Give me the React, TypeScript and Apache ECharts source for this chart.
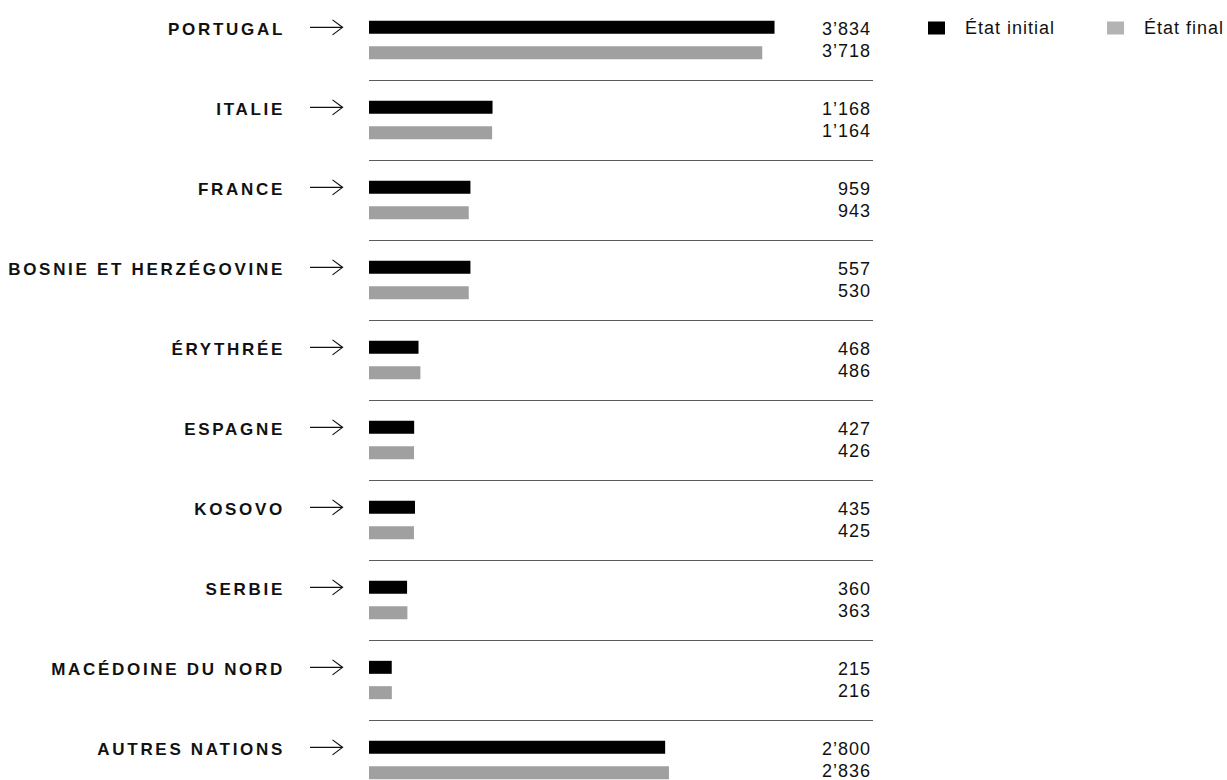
import React, { useEffect, useRef } from 'react';
import * as echarts from 'echarts';

const categories = [
  'PORTUGAL',
  'ITALIE',
  'FRANCE',
  'BOSNIE ET HERZÉGOVINE',
  'ÉRYTHRÉE',
  'ESPAGNE',
  'KOSOVO',
  'SERBIE',
  'MACÉDOINE DU NORD',
  'AUTRES NATIONS',
];

// Printed values (right-hand labels)
const labelInitial = [3834, 1168, 959, 557, 468, 427, 435, 360, 215, 2800];
const labelFinal = [3718, 1164, 943, 530, 486, 426, 425, 363, 216, 2836];

// Bar lengths as drawn in the reference (the Bosnia bars are drawn at the France lengths)
const barInitial = [3834, 1168, 959, 959, 468, 427, 435, 360, 215, 2800];
const barFinal = [3718, 1164, 943, 943, 486, 426, 425, 363, 216, 2836];

const seriesNames = ['État initial', 'État final'];

const FONT = '"Liberation Sans", Arial, Helvetica, sans-serif';

const fmt = (n: number) =>
  n >= 1000 ? `${Math.floor(n / 1000)}’${String(n % 1000).padStart(3, '0')}` : String(n);

const css = `
text[style*="bold"] { letter-spacing: 2.7px; }
text[style*="18px"] { letter-spacing: 1px; }
`;

export default function App() {
  const ref = useRef<HTMLDivElement>(null);
  useEffect(() => {
    const chart = echarts.init(ref.current!, null, { renderer: 'svg' });
    chart.setOption({
      animation: false,
      textStyle: { fontFamily: FONT },
      legend: {
        left: 928,
        top: 19,
        padding: 0,
        itemWidth: 17,
        itemHeight: 13,
        icon: 'rect',
        itemGap: 64,
        textStyle: { fontSize: 18, color: '#111', fontFamily: FONT, padding: [0, 0, 0, 15] },
        data: [
          { name: seriesNames[0], itemStyle: { color: '#000000' } },
          { name: seriesNames[1], itemStyle: { color: '#b3b3b3' } },
        ],
      },
      grid: { left: 369, top: 0, width: 504, height: 800, containLabel: false, outerBoundsMode: 'none' },
      xAxis: { type: 'value', min: 0, max: 4765, show: false },
      yAxis: [
        {
          type: 'category',
          data: categories,
          inverse: true,
          axisLine: { show: false },
          axisTick: { show: false },
          splitLine: {
            show: true,
            interval: (i: number) => i > 0,
            lineStyle: { color: '#5a5a5a', width: 1.2 },
          },
          axisLabel: {
            interval: 0,
            margin: 84,
            formatter: (v: string) => `{n|${v}}\n{e| }`,
            rich: {
              n: { fontSize: 17, fontWeight: 'bold', color: '#111', fontFamily: FONT, lineHeight: 25 },
              e: { fontSize: 10, lineHeight: 22 },
            },
          },
        },
        {
          type: 'category',
          data: categories,
          inverse: true,
          position: 'right',
          axisLine: { show: false },
          axisTick: { show: false },
          splitLine: { show: false },
          axisLabel: {
            interval: 0,
            margin: -2,
            align: 'right',
            formatter: (_v: string, i: number) =>
              `{v|${fmt(labelInitial[i])}}\n{v|${fmt(labelFinal[i])}}`,
            rich: {
              v: { fontSize: 18, lineHeight: 22, color: '#111', fontFamily: FONT },
            },
          },
        },
      ],
      series: [
        {
          name: seriesNames[0],
          type: 'bar',
          data: barInitial,
          barWidth: 13,
          barGap: '95%',
          itemStyle: { color: '#000000' },
        },
        {
          name: seriesNames[1],
          type: 'bar',
          data: barFinal,
          barWidth: 13,
          barGap: '95%',
          itemStyle: { color: '#a0a0a0' },
        },
        {
          // arrows pointing from each country name to its bars
          type: 'custom',
          silent: true,
          clip: false,
          data: categories.map((_c, i) => [0, i]),
          encode: { x: 0, y: 1 },
          renderItem: (_params: any, api: any) => {
            const p = api.coord([0, api.value(1)]);
            const band = api.size([0, 1])[1];
            const x = p[0];
            const y = p[1] - band * 0.158;
            const st = { stroke: '#111', lineWidth: 1.2, fill: null };
            return {
              type: 'group',
              children: [
                { type: 'line', shape: { x1: x - 59, y1: y, x2: x - 26.5, y2: y }, style: st },
                {
                  type: 'polyline',
                  shape: { points: [[x - 36.5, y - 7.5], [x - 26.5, y], [x - 36.5, y + 7.5]] },
                  style: st,
                },
              ],
            };
          },
        },
      ],
    });
    return () => chart.dispose();
  }, []);
  return (
    <>
      <style>{css}</style>
      <div ref={ref} style={{ position: 'absolute', left: 0, top: 0, width: 1227, height: 780 }} />
    </>
  );
}
